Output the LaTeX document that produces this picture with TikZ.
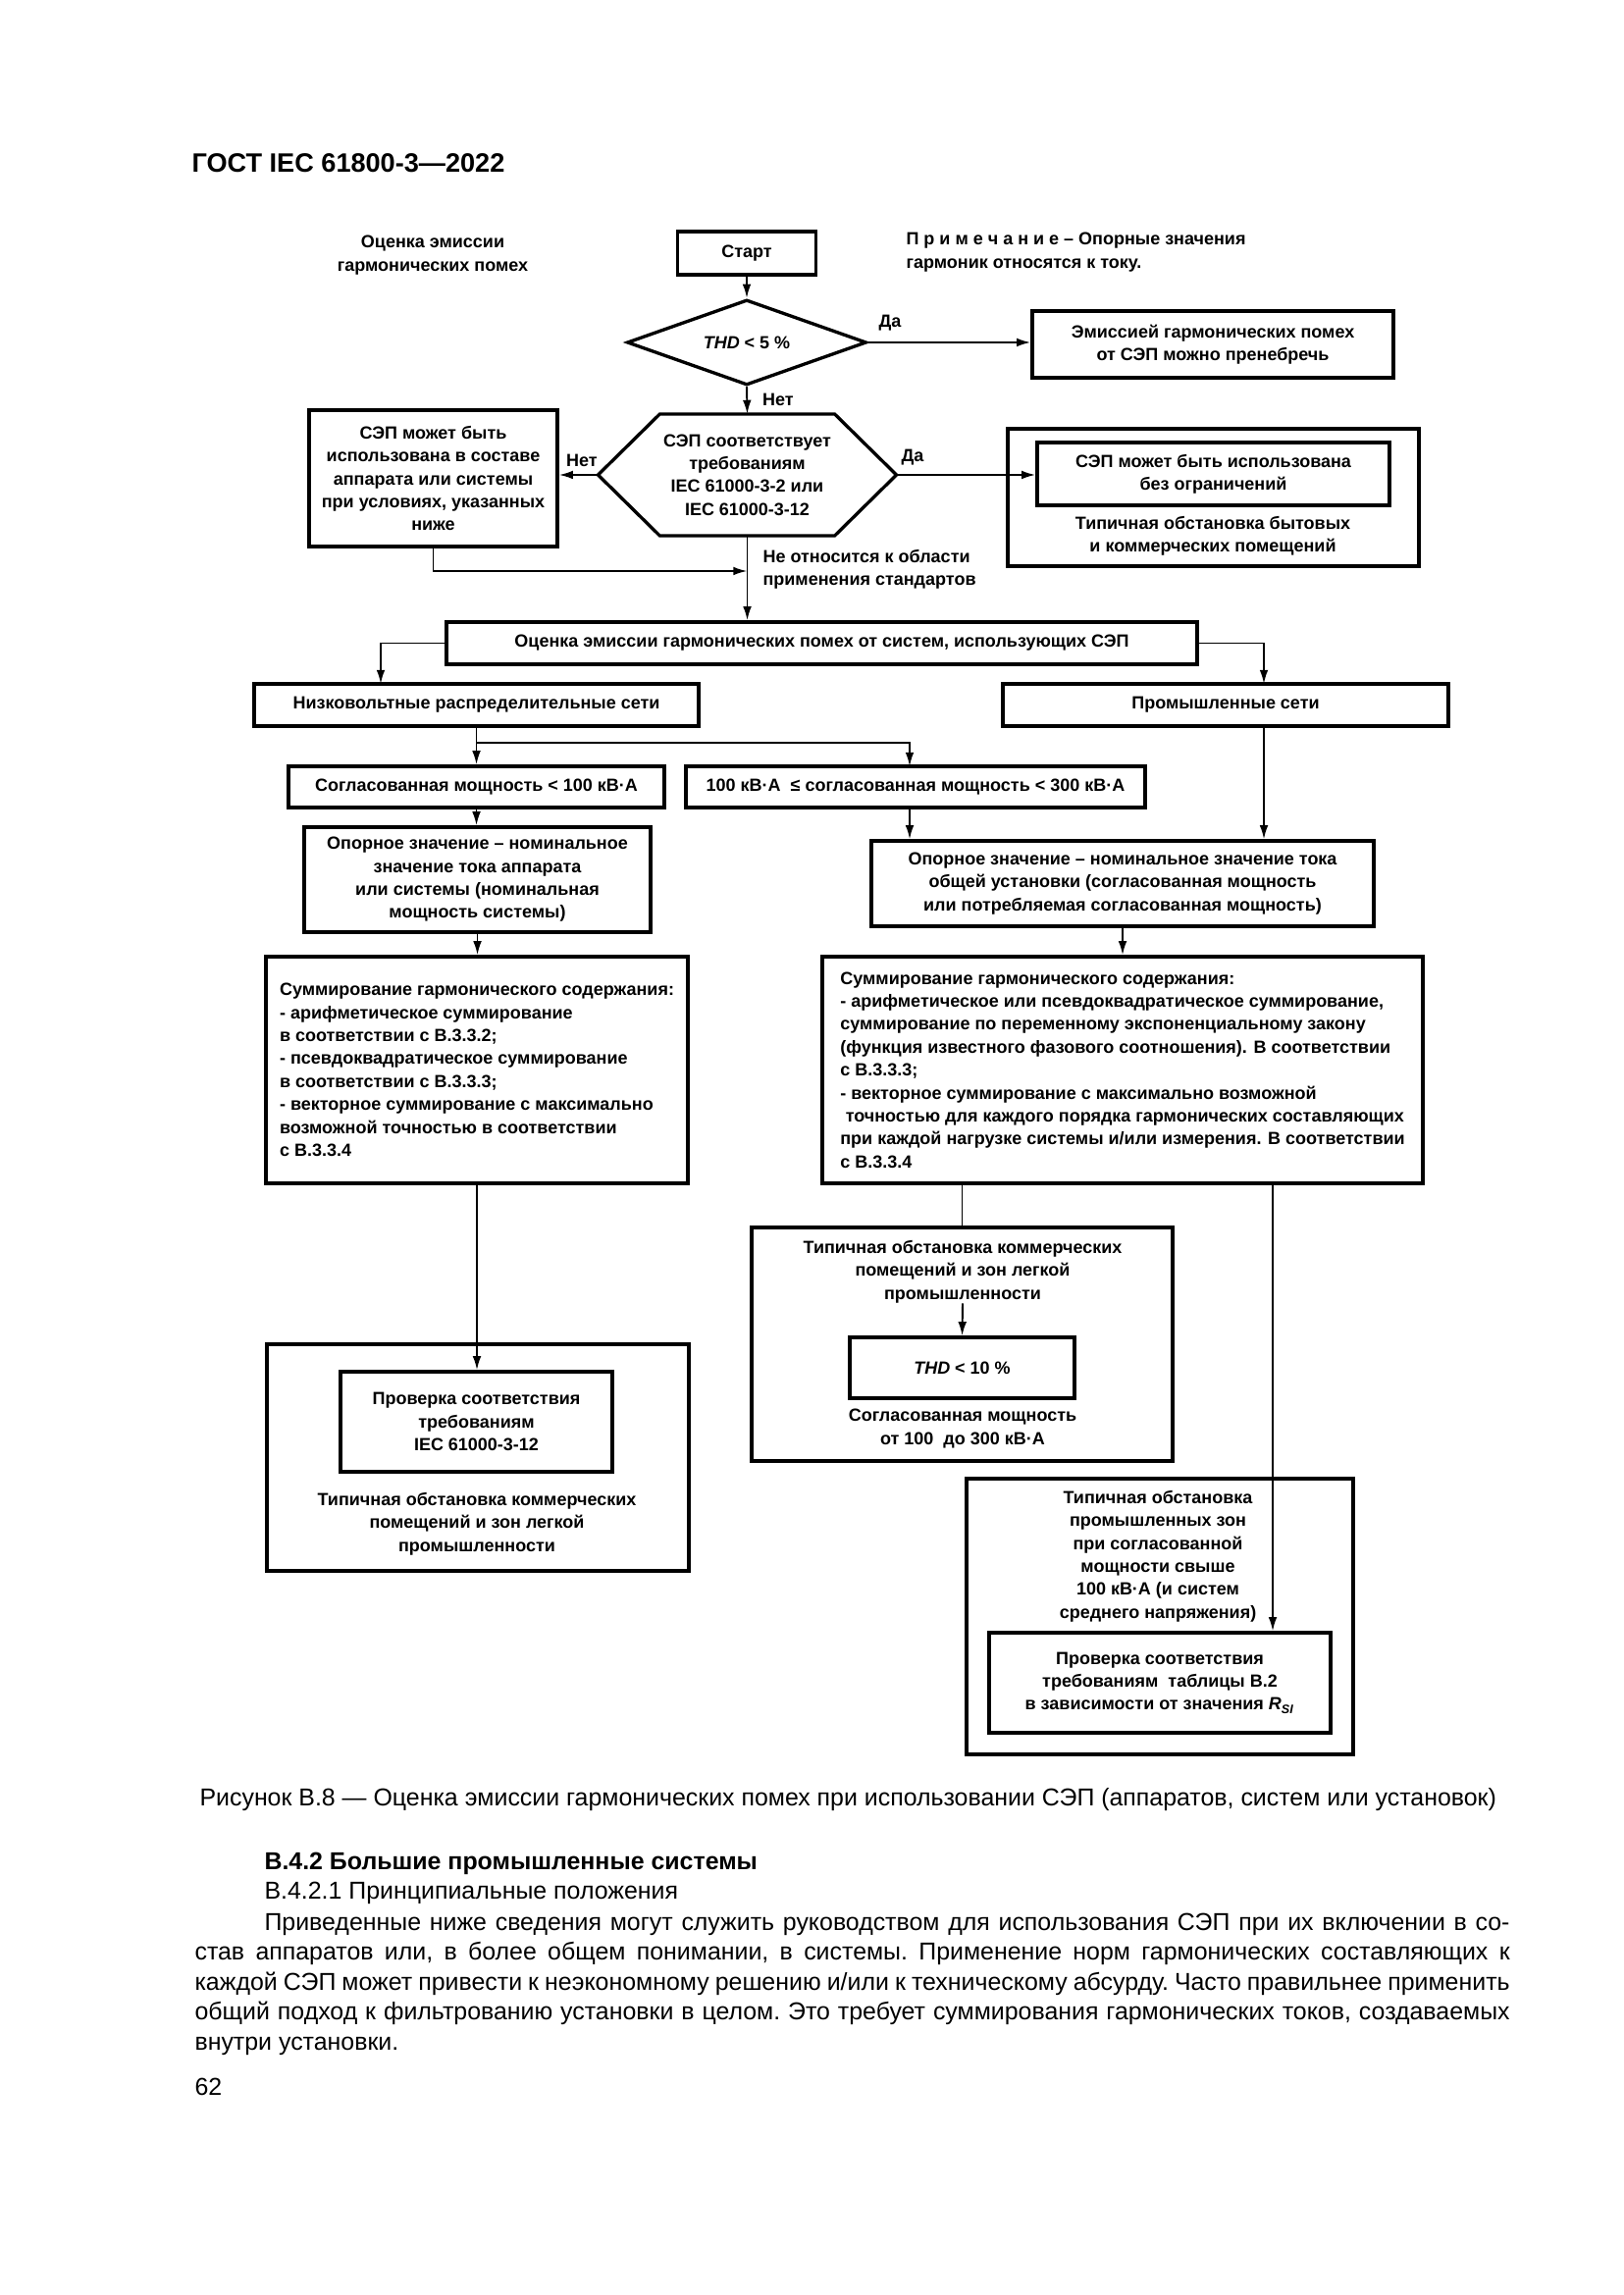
\documentclass[tikz,border=0pt]{standalone}
\usepackage{fontspec}
\setmainfont{Liberation Sans}
\usetikzlibrary{arrows.meta,shapes.geometric,calc}

\newdimen\pxu \pxu=0.127mm
\newcommand\dfont{\fontsize{6.5}{8.45}\selectfont\bfseries}
\newcommand\bfont{\fontsize{9}{11.06}\selectfont\frenchspacing}

\tikzset{
  sz/.style 2 args={minimum width=#1*\pxu, minimum height=#2*\pxu},
  box/.style={draw, line width=1.2pt, inner sep=0pt, align=center, font=\dfont},
  lbl/.style={inner sep=0pt, align=center, font=\dfont},
  conn/.style={line width=0.7pt},
  arr/.style={conn, -{Latex[length=1.8mm,width=1.1mm]}},
  body/.style={anchor=base west, inner sep=0pt, align=left, font=\bfont},
}

\begin{document}
\begin{tikzpicture}[x=0.127mm, y=-0.127mm]
\path[fill=white, use as bounding box] (0,0) rectangle (1654,2339);

\node[anchor=base west, inner sep=0pt, font=\fontsize{9.8}{12}\selectfont\bfseries] (gost) at (195,176) {ГОСТ IEC 61800-3—2022};

% top of the chart
\node[lbl] (head) at (441,260) {Оценка эмиссии\\гармонических помех};
\node[lbl, anchor=west, align=left] (note) at (923,257) {П р и м е ч а н и е – Опорные значения\\гармоник относятся к току.};
\node[box, sz={141}{44}] (start) at (761,258) {Старт};
\node[draw, diamond, line width=1.2pt, inner sep=0pt, aspect=2.8, sz={244}{87}, font=\dfont] (thd) at (761,349) {\textit{THD} < 5 \%};
\node[box, sz={368}{68}] (noemit) at (1236,351) {Эмиссией гармонических помех\\от СЭП можно пренебречь};
\node[lbl, sz={303}{123}] (hex) at (761.5,484) {СЭП соответствует\\требованиям\\IEC 61000-3-2 или\\IEC 61000-3-12};
\draw[line width=1.2pt] (hex.west) -- ($(hex.north west)+(63,0)$) -- ($(hex.north east)+(-63,0)$) -- (hex.east)
  -- ($(hex.south east)+(-63,0)$) -- ($(hex.south west)+(63,0)$) -- cycle;
\node[box, sz={253}{139}] (useleft) at (441.5,487.5) {СЭП может быть\\использована в составе\\аппарата или системы\\при условиях, указанных\\ниже};
\node[box, sz={419}{140}] (useright) at (1236.5,507) {};
\node[box, sz={359}{64}] (freeuse) at (1236.5,483) {СЭП может быть использована\\без ограничений};
\node[lbl] (home) at (1236,546) {Типичная обстановка бытовых\\и коммерческих помещений};
\node[lbl] (yes1) at (907,329) {Да};
\node[lbl] (no1) at (793,407) {Нет};
\node[lbl] (no2) at (593,469) {Нет};
\node[lbl] (yes2) at (930,466) {Да};
\node[lbl, anchor=west, align=left] (outside) at (777,580) {Не относится к области\\применения стандартов};
\coordinate (back) at (761.5,582);

% systems
\node[box, sz={765}{43}] (evalbox) at (837.5,655.5) {Оценка эмиссии гармонических помех от систем, использующих СЭП};
\node[box, sz={453}{43}] (lvbox) at (485.5,718.5) {Низковольтные распределительные сети};
\node[box, sz={454}{43}] (indbox) at (1249,718.5) {Промышленные сети};
\node[box, sz={383}{42}] (lowbox) at (485.5,802) {Согласованная мощность < 100 кВ·А};
\node[box, sz={468}{42}] (midbox) at (933,802) {100 кВ·А \ ≤ согласованная мощность < 300 кВ·А};
\node[box, sz={353}{107}] (refL) at (486.5,896.5) {Опорное значение – номинальное\\значение тока аппарата\\или системы (номинальная\\мощность системы)};
\node[box, sz={512}{87}] (refR) at (1144,900.5) {Опорное значение – номинальное значение тока\\общей установки (согласованная мощность\\или потребляемая согласованная мощность)};
\node[box, sz={430}{231}, align=left] (sumL) at (486,1090.5) {Суммирование гармонического содержания:\\
- арифметическое суммирование\\
в соответствии с В.3.3.2;\\
- псевдоквадратическое суммирование\\
в соответствии с В.3.3.3;\\
- векторное суммирование с максимально\\
возможной точностью в соответствии\\
с В.3.3.4};
\node[box, sz={612}{231}, align=left] (sumR) at (1144,1090.5) {Суммирование гармонического содержания:\\
- арифметическое или псевдоквадратическое суммирование,\\
суммирование по переменному экспоненциальному закону\\
(функция известного фазового соотношения). В соответствии\\
с В.3.3.3;\\
- векторное суммирование с максимально возможной\\
\hspace*{0.3em}точностью для каждого порядка гармонических составляющих\\
при каждой нагрузке системы и/или измерения. В соответствии\\
с В.3.3.4};

% bottom groups
\node[box, sz={430}{231}] (outL) at (487,1485.5) {};
\node[box, sz={277}{102}] (chkL) at (485.5,1449) {Проверка соответствия\\требованиям\\IEC 61000-3-12};
\node[lbl] (ltxt) at (486,1553) {Типичная обстановка коммерческих\\помещений и зон легкой\\промышленности};
\node[box, sz={429}{238}] (outM) at (980.5,1370) {};
\node[lbl] (mtxt) at (981,1296) {Типичная обстановка коммерческих\\помещений и зон легкой\\промышленности};
\node[box, sz={229}{62}] (thd10) at (980.5,1394) {\textit{THD} < 10 \%};
\node[lbl] (m2txt) at (981,1456) {Согласованная мощность\\от 100 \ до 300 кВ·А};
\node[box, sz={394}{281}] (outR) at (1182,1647.5) {};
\node[lbl] (rtxt) at (1180,1586) {Типичная обстановка\\промышленных зон\\при согласованной\\мощности свыше\\100 кВ·А (и систем\\среднего напряжения)};
\node[box, sz={348}{102}] (chkR) at (1182,1715) {Проверка соответствия\\требованиям \ таблицы В.2\\в зависимости от значения \textit{R}\textsubscript{\textit{SI}}};

% connectors
\draw[arr] (start.south) -- (thd.north);
\draw[arr] (thd.east) -- (thd.east -| noemit.west);
\draw[arr] (thd.south) -- (hex.north);
\draw[arr] (hex.west) -- (hex.west -| useleft.east);
\draw[arr] (hex.east) -- (hex.east -| freeuse.west);
\draw[arr] (useleft.south) |- (back);
\draw[arr] (hex.south) -- (hex.south |- evalbox.north);
\coordinate (lvin) at (388,697);
\coordinate (indin) at (1288,697);
\draw[arr] (evalbox.west) -| (lvin);
\draw[arr] (evalbox.east) -| (indin);
\coordinate (fork) at (485.5,757);
\coordinate (midin) at (927,781);
\draw[conn] (lvbox.south) -- (fork);
\draw[arr] (fork) -- (lowbox.north);
\draw[arr] (fork) -| (midin);
\draw[arr] (lowbox.south) -- (lowbox.south |- refL.north);
\draw[arr] (midin |- midbox.south) -- (midin |- refR.north);
\draw[arr] (indin |- indbox.south) -- (indin |- refR.north);
\draw[arr] (refL.south) -- (refL.south |- sumL.north);
\draw[arr] (refR.south) -- (sumR.north);
\draw[arr] (sumL.south) -- (sumL.south |- chkL.north);
\draw[conn] (outM.north |- sumR.south) -- (outM.north);
\draw[arr] (mtxt.south) -- (thd10.north);
\coordinate (rdrop) at (1297,1206);
\draw[arr] (rdrop) -- (rdrop |- chkR.north);

% text under the figure
\node[body] (cap) at (203,1840) {Рисунок В.8 — Оценка эмиссии гармонических помех при использовании СЭП (аппаратов, систем или установок)};
\node[body, font=\bfont\bfseries] (sect) at (269,1905) {В.4.2 Большие промышленные системы};
\node[body] (subsect) at (269,1935) {В.4.2.1 Принципиальные положения};
\node[body] (para) at (198,2089.5) {\hspace*{71\pxu}\makebox[1269\pxu][s]{Приведенные ниже сведения могут служить руководством для использования СЭП при их включении в со-}\\
\makebox[1340\pxu][s]{став аппаратов или, в более общем понимании, в системы. Применение норм гармонических составляющих к}\\
\makebox[1340\pxu][s]{каждой СЭП может привести к неэкономному решению и/или к техническому абсурду. Часто правильнее применить}\\
\makebox[1340\pxu][s]{общий подход к фильтрованию установки в целом. Это требует суммирования гармонических токов, создаваемых}\\
внутри установки.};
\node[body] (page) at (198,2135) {62};
\end{tikzpicture}
\end{document}
